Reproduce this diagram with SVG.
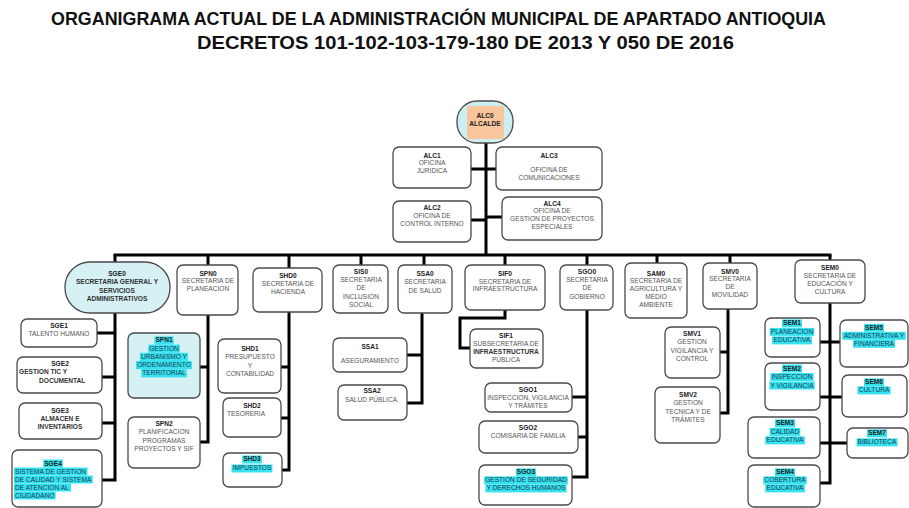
<svg xmlns="http://www.w3.org/2000/svg" width="909" height="508" viewBox="0 0 909 508">
<style>
.bg{fill:#fff}
.b{fill:#fff;stroke:#4a4a4a;stroke-width:1.3}
.bl{fill:#d6f1f4;stroke:#4a4a4a;stroke-width:1.3}
text{font-family:"Liberation Sans",Arial,sans-serif;font-size:6.6px;text-anchor:middle;fill:#555}
.id{font-weight:bold;fill:#222}
.bd{font-weight:bold;fill:#333}
.st{text-anchor:start}
.hl{fill:#36e2ee}
.ht{fill:#1b3b55}
.ttl{font-size:17.5px;font-weight:bold;fill:#111}
.ln{stroke:#000;stroke-width:3;fill:none}
</style>
<rect class="bg" x="0" y="0" width="909" height="508"/>
<text class="ttl" x="438.5" y="24.5" textLength="775" lengthAdjust="spacingAndGlyphs">ORGANIGRAMA ACTUAL DE LA ADMINISTRACIÓN MUNICIPAL DE APARTADO ANTIOQUIA</text>
<text class="ttl" x="465.5" y="48.5" textLength="537" lengthAdjust="spacingAndGlyphs">DECRETOS 101-102-103-179-180 DE 2013 Y 050 DE 2016</text>

<g id="connectors">
<path class="ln" d="M486 143V255M471 169H486M486 169H496M471 220H486M486 217H502"/>
<path class="ln" d="M113.5 255H831.5"/>
<path class="ln" d="M115 255V262M208 255V265M289 255V268M361 255V265M424 255V265M505 255V265M587 255V265M657 255V263M730 255V263M830 255V260"/>
<path class="ln" d="M115 313V481.5M97 333H115M102 377H115M102 423H115M102 480H115"/>
<path class="ln" d="M208 315V443.5M200 367H208M200 442H208"/>
<path class="ln" d="M289 312V471.5M281 367H289M281 418H289M282 470H289"/>
<path class="ln" d="M422 313V404.5M407 355H422M407 403H422"/>
<path class="ln" d="M505 310V318H460V348H470"/>
<path class="ln" d="M587 310V478.5M572 397H587M578 437H587M572 477H587"/>
<path class="ln" d="M728 309V414.5M720 352H728M720 413H728"/>
<path class="ln" d="M830 303V484.5M820 342H840M820 397H842M820 443H847M820 483H830"/>
</g>

<g id="ALC0">
<rect x="457" y="101" width="56" height="42" rx="20" fill="#cdeef2" stroke="#4a4a4a" stroke-width="1.3"/>
<rect x="467" y="106" width="37" height="33" fill="#f9c59c"/>
<text class="id" x="485" y="117.5">ALC0</text>
<text class="id" x="485" y="125.5">ALCALDE</text>
</g>
<g id="ALC1">
<rect class="b" x="393" y="147" width="78" height="41" rx="6"/>
<text class="id" x="432" y="157.5">ALC1</text>
<text x="432" y="165">OFICINA</text>
<text x="432" y="172.5">JURIDICA</text>
</g>
<g id="ALC3">
<rect class="b" x="496" y="147" width="106" height="43" rx="6"/>
<text class="id" x="549" y="157.5">ALC3</text>
<text x="549" y="172">OFICINA DE</text>
<text x="549" y="180">COMUNICACIONES</text>
</g>
<g id="ALC2">
<rect class="b" x="393" y="201" width="78" height="41" rx="6"/>
<text class="id" x="432" y="209.5">ALC2</text>
<text x="432" y="217.5">OFICINA DE</text>
<text x="432" y="225.5">CONTROL INTERNO</text>
</g>
<g id="ALC4">
<rect class="b" x="502" y="197" width="100" height="43" rx="6"/>
<text class="id" x="552" y="205.5">ALC4</text>
<text x="552" y="213">OFICINA DE</text>
<text x="552" y="220.5">GESTION DE PROYECTOS</text>
<text x="552" y="228.5">ESPECIALES</text>
</g>

<g id="SGE0">
<rect class="bl" x="65" y="262" width="105" height="51" rx="25"/>
<text class="id" x="117" y="275.5">SGE0</text>
<text class="bd" x="117" y="284">SECRETARIA GENERAL Y</text>
<text class="bd" x="117" y="292.5">SERVICIOS</text>
<text class="bd" x="117" y="301">ADMINISTRATIVOS</text>
</g>
<g id="SGE1">
<rect class="b" x="21" y="319" width="76" height="28" rx="6"/>
<text class="id" x="59" y="327.5">SGE1</text>
<text x="59" y="335.5">TALENTO HUMANO</text>
</g>
<g id="SGE2">
<rect class="b" x="17" y="357" width="85" height="36" rx="6"/>
<text class="id" x="60" y="365.5">SGE2</text>
<text class="bd st" x="19" y="374">GESTION TIC Y</text>
<text class="bd st" x="39" y="383">DOCUMENTAL</text>
</g>
<g id="SGE3">
<rect class="b" x="19" y="403" width="83" height="36" rx="6"/>
<text class="id" x="60" y="412.5">SGE3</text>
<text class="bd" x="60" y="420.5">ALMACEN E</text>
<text class="bd" x="60" y="429">INVENTARIOS</text>
</g>
<g id="SGE4">
<rect class="b" x="12" y="450" width="90" height="57" rx="6"/>
<rect class="hl" x="43.2" y="459.5" width="19.6" height="8"/>
<rect class="hl" x="14" y="467.5" width="73.5" height="8"/>
<rect class="hl" x="14" y="475.5" width="78.7" height="8"/>
<rect class="hl" x="14" y="483.5" width="57" height="8"/>
<rect class="hl" x="14" y="491.5" width="41.6" height="8"/>
<text class="id" x="53" y="465.5">SGE4</text>
<text class="ht st" x="15" y="473.5">SISTEMA DE GESTION</text>
<text class="ht st" x="15" y="481.5">DE CALIDAD Y SISTEMA</text>
<text class="ht st" x="15" y="489.5">DE ATENCION AL</text>
<text class="ht st" x="15" y="497.5">CIUDADANO</text>
</g>

<g id="SPN0">
<rect class="b" x="177" y="265" width="61" height="50" rx="6"/>
<text class="id" x="208" y="275.5">SPN0</text>
<text x="208" y="283">SECRETARIA DE</text>
<text x="208" y="290.5">PLANEACION</text>
</g>
<g id="SPN1">
<rect class="bl" x="128" y="333" width="72" height="65" rx="6"/>
<rect class="hl" x="154.4" y="336.4" width="19.2" height="8.2"/>
<rect class="hl" x="148.2" y="344.6" width="31.7" height="8.2"/>
<rect class="hl" x="139.9" y="352.8" width="48.2" height="8.2"/>
<rect class="hl" x="136" y="361" width="55.9" height="8.2"/>
<rect class="hl" x="141.2" y="369.2" width="45.6" height="8.2"/>
<text class="id" x="164" y="342.4">SPN1</text>
<text class="ht" x="164" y="350.6">GESTION</text>
<text class="ht" x="164" y="358.8">URBANISMO Y</text>
<text class="ht" x="164" y="367">ORDENAMIENTO</text>
<text class="ht" x="164" y="375.2">TERRITORIAL</text>
</g>
<g id="SPN2">
<rect class="b" x="128" y="417" width="72" height="51" rx="6"/>
<text class="id" x="164" y="425.5">SPN2</text>
<text x="164" y="434">PLANIFICACION</text>
<text x="164" y="442.5">PROGRAMAS</text>
<text x="164" y="451">PROYECTOS Y SIF</text>
</g>

<g id="SHD0">
<rect class="b" x="253" y="268" width="69" height="44" rx="6"/>
<text class="id" x="288" y="277.5">SHD0</text>
<text x="288" y="285.5">SECRETARIA DE</text>
<text x="288" y="294">HACIENDA</text>
</g>
<g id="SHD1">
<rect class="b" x="218" y="339" width="63" height="54" rx="6"/>
<text class="id" x="250" y="350.5">SHD1</text>
<text x="250" y="359">PRESUPUESTO</text>
<text x="250" y="367.5">Y</text>
<text x="250" y="376">CONTABILIDAD</text>
</g>
<g id="SHD2">
<rect class="b" x="223" y="398" width="58" height="39" rx="6"/>
<text class="id" x="252" y="407.5">SHD2</text>
<text x="246" y="415.5">TESORERIA</text>
</g>
<g id="SHD3">
<rect class="b" x="223" y="453" width="59" height="34" rx="6"/>
<rect class="hl" x="242.2" y="455.5" width="19.6" height="8"/>
<rect class="hl" x="231.5" y="464.5" width="40.9" height="8"/>
<text class="id" x="252" y="461.4">SHD3</text>
<text class="ht" x="252" y="470.4">IMPUESTOS</text>
</g>

<g id="SIS0">
<rect class="b" x="333" y="265" width="55" height="48" rx="6"/>
<text class="id" x="361" y="274">SIS0</text>
<text x="361" y="281.5">SECRETARIA</text>
<text x="361" y="290">DE</text>
<text x="361" y="298.5">INCLUSION</text>
<text x="361" y="307">SOCIAL</text>
</g>

<g id="SSA0">
<rect class="b" x="398" y="265" width="54" height="48" rx="6"/>
<text class="id" x="425" y="275.5">SSA0</text>
<text x="425" y="284">SECRETARIA</text>
<text x="425" y="292.5">DE SALUD</text>
</g>
<g id="SSA1">
<rect class="b" x="333" y="338" width="74" height="34" rx="6"/>
<text class="id" x="370" y="348.5">SSA1</text>
<text x="370" y="362.5">ASEGURAMIENTO</text>
</g>
<g id="SSA2">
<rect class="b" x="338" y="385" width="69" height="35" rx="6"/>
<text class="id" x="372" y="392.5">SSA2</text>
<text x="372" y="401.5">SALUD PÚBLICA.</text>
</g>

<g id="SIF0">
<rect class="b" x="465" y="265" width="80" height="45" rx="6"/>
<text class="id" x="505" y="275.5">SIF0</text>
<text x="505" y="283.5">SECRETARIA DE</text>
<text x="505" y="291">INFRAESTRUCTURA</text>
</g>
<g id="SIF1">
<rect class="b" x="470" y="329" width="73" height="39" rx="6"/>
<text class="id" x="506" y="337.5">SIF1</text>
<text x="506" y="345.5">SUBSECRETARIA DE</text>
<text class="bd" x="506" y="353.5">INFRAESTRUCTURA</text>
<text x="506" y="361.5">PÚBLICA</text>
</g>

<g id="SGO0">
<rect class="b" x="560" y="265" width="53" height="45" rx="6"/>
<text class="id" x="587" y="273.5">SGO0</text>
<text x="587" y="281.5">SECRETARIA</text>
<text x="587" y="290">DE</text>
<text x="587" y="298.5">GOBIERNO</text>
</g>
<g id="SGO1">
<rect class="b" x="485" y="383" width="87" height="29" rx="6"/>
<text class="id" x="528" y="392">SGO1</text>
<text x="528" y="399.5">INSPECCION, VIGILANCIA</text>
<text x="528" y="407.5">Y TRÁMITES</text>
</g>
<g id="SGO2">
<rect class="b" x="479" y="421" width="99" height="32" rx="6"/>
<text class="id" x="528" y="429.5">SGO2</text>
<text x="528" y="437.5">COMISARIA DE FAMILIA</text>
</g>
<g id="SGO3">
<rect class="b" x="479" y="465" width="93" height="40" rx="6"/>
<rect class="hl" x="515.8" y="468.4" width="20.3" height="8"/>
<rect class="hl" x="484.1" y="476.4" width="83.8" height="8"/>
<rect class="hl" x="485.4" y="484.4" width="81.2" height="8"/>
<text class="id" x="526" y="474.4">SGO3</text>
<text class="ht" x="526" y="482.4">GESTION DE SEGURIDAD</text>
<text class="ht" x="526" y="490.4">Y DERECHOS HUMANOS</text>
</g>

<g id="SAM0">
<rect class="b" x="625" y="263" width="62" height="55" rx="6"/>
<text class="id" x="656" y="275.5">SAM0</text>
<text x="656" y="282.5">SECRETARIA DE</text>
<text x="656" y="290.5">AGRICULTURA Y</text>
<text x="656" y="298.5">MEDIO</text>
<text x="656" y="306.5">AMBIENTE</text>
</g>

<g id="SMV0">
<rect class="b" x="703" y="263" width="54" height="46" rx="6"/>
<text class="id" x="730" y="273.5">SMV0</text>
<text x="730" y="280.5">SECRETARIA</text>
<text x="730" y="288.5">DE</text>
<text x="730" y="296.5">MOVILIDAD</text>
</g>
<g id="SMV1">
<rect class="b" x="665" y="327" width="55" height="51" rx="6"/>
<text class="id" x="692" y="335.5">SMV1</text>
<text x="692" y="344">GESTION</text>
<text x="692" y="352.5">VIGILANCIA Y</text>
<text x="692" y="361">CONTROL</text>
</g>
<g id="SMV2">
<rect class="b" x="655" y="387" width="65" height="56" rx="6"/>
<text class="id" x="688" y="396.5">SMV2</text>
<text x="688" y="405">GESTION</text>
<text x="688" y="413.5">TECNICA Y DE</text>
<text x="688" y="422">TRÁMITES</text>
</g>

<g id="SEM0">
<rect class="b" x="795" y="260" width="70" height="43" rx="6"/>
<text class="id" x="830" y="269.5">SEM0</text>
<text x="830" y="277.5">SECRETARIA DE</text>
<text x="830" y="285.5">EDUCACIÓN Y</text>
<text x="830" y="294">CULTURA</text>
</g>
<g id="SEM1">
<rect class="b" x="765" y="318" width="55" height="39" rx="6"/>
<rect class="hl" x="782" y="319.4" width="20" height="8"/>
<rect class="hl" x="769.75" y="327.9" width="44.5" height="8"/>
<rect class="hl" x="772.1" y="336.4" width="39.8" height="8"/>
<text class="id" x="792" y="325.4">SEM1</text>
<text class="ht" x="792" y="333.9">PLANEACION</text>
<text class="ht" x="792" y="342.4">EDUCATIVA</text>
</g>
<g id="SEM2">
<rect class="b" x="765" y="363" width="55" height="47" rx="6"/>
<rect class="hl" x="782" y="364.5" width="20" height="8"/>
<rect class="hl" x="770.45" y="373" width="43.1" height="8"/>
<rect class="hl" x="769.35" y="381.5" width="45.3" height="8"/>
<text class="id" x="792" y="370.5">SEM2</text>
<text class="ht" x="792" y="379">INSPECCION</text>
<text class="ht" x="792" y="387.5">Y VIGILANCIA</text>
</g>
<g id="SEM3">
<rect class="b" x="748" y="417" width="72" height="41" rx="6"/>
<rect class="hl" x="775" y="419.4" width="20" height="8"/>
<rect class="hl" x="769.7" y="427.9" width="30.6" height="8"/>
<rect class="hl" x="765.1" y="436.4" width="39.8" height="8"/>
<text class="id" x="785" y="425.4">SEM3</text>
<text class="ht" x="785" y="433.9">CALIDAD</text>
<text class="ht" x="785" y="442.4">EDUCATIVA</text>
</g>
<g id="SEM4">
<rect class="b" x="748" y="465" width="72" height="42" rx="6"/>
<rect class="hl" x="775" y="468.4" width="20" height="8"/>
<rect class="hl" x="763.3" y="476.4" width="43.4" height="8"/>
<rect class="hl" x="765.1" y="484.4" width="39.8" height="8"/>
<text class="id" x="785" y="474.4">SEM4</text>
<text class="ht" x="785" y="482.4">COBERTURA</text>
<text class="ht" x="785" y="490.4">EDUCATIVA</text>
</g>
<g id="SEM5">
<rect class="b" x="840" y="320" width="68" height="47" rx="6"/>
<rect class="hl" x="864" y="323.8" width="20" height="8"/>
<rect class="hl" x="842.2" y="331.8" width="63.6" height="8"/>
<rect class="hl" x="853" y="339.8" width="42" height="8"/>
<text class="id" x="874" y="329.8">SEM5</text>
<text class="ht" x="874" y="337.8">ADMINISTRATIVA Y</text>
<text class="ht" x="874" y="345.8">FINANCIERA</text>
</g>
<g id="SEM6">
<rect class="b" x="842" y="375" width="65" height="42" rx="6"/>
<rect class="hl" x="864" y="378.4" width="20" height="8"/>
<rect class="hl" x="857.4" y="386.4" width="33.2" height="8"/>
<text class="id" x="874" y="384.4">SEM6</text>
<text class="ht" x="874" y="392.4">CULTURA</text>
</g>
<g id="SEM7">
<rect class="b" x="847" y="428" width="61" height="30" rx="6"/>
<rect class="hl" x="867" y="429.4" width="20" height="8"/>
<rect class="hl" x="856.55" y="438.4" width="40.9" height="8"/>
<text class="id" x="877" y="435.4">SEM7</text>
<text class="ht" x="877" y="444.4">BIBLIOTECA</text>
</g>
</svg>
